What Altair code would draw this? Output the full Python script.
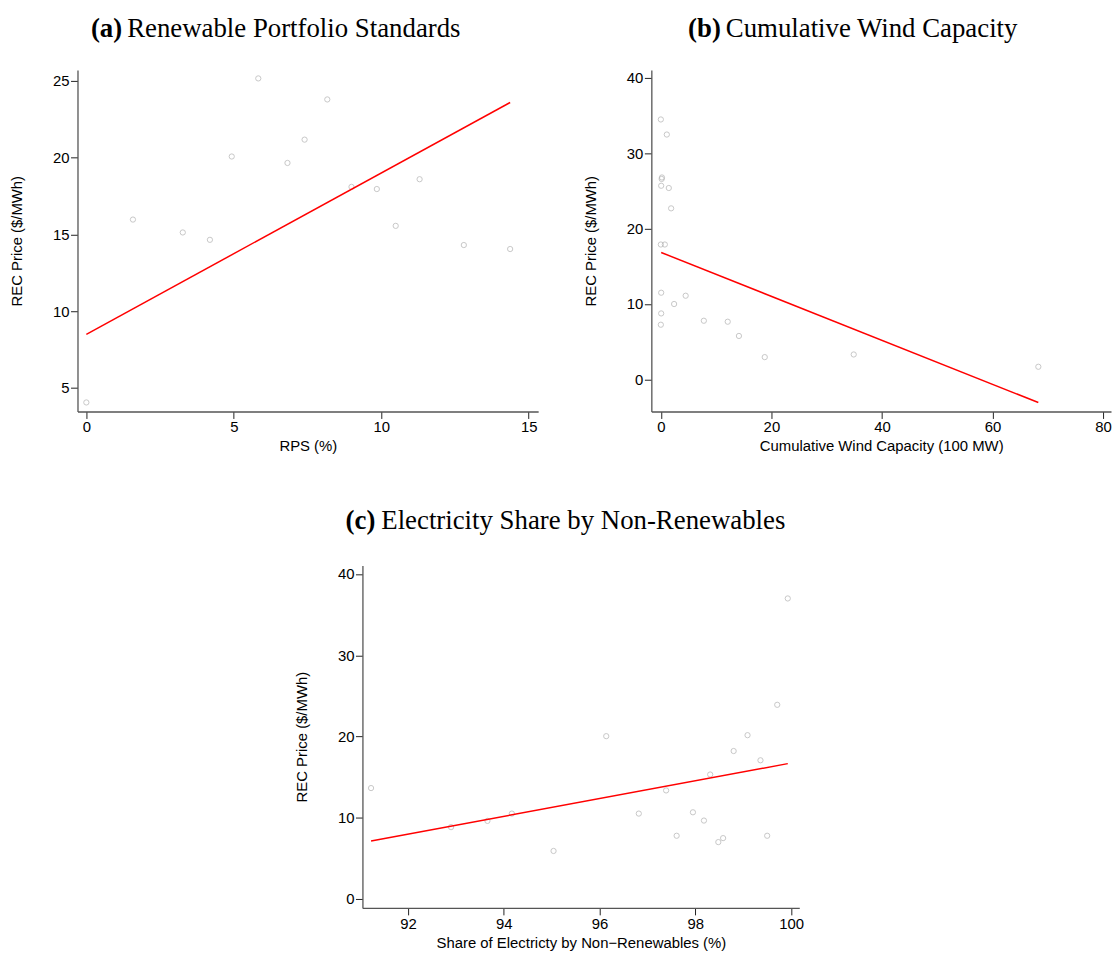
import altair as alt
import pandas as pd

# ---- data ----
rps_pct = [0, 1.58, 3.27, 4.19, 4.93, 5.83, 6.82, 7.40, 8.17, 8.99, 9.85, 10.49, 11.30, 12.80, 14.37]
rec_a = [4.05, 15.97, 15.13, 14.65, 20.08, 25.17, 19.66, 21.18, 23.80, 18.10, 17.96, 15.56, 18.60, 14.31, 14.05]
fit_a_x = [0, 14.37]
fit_a_y = [8.49, 23.60]

wind_cap = [0, 1.08, 0.20, 0.15, 0.06, 1.44, 1.86, 0, 0.72, 0.06, 4.49, 2.40, 0.06, 0, 7.78, 12.10, 14.13, 18.80, 34.90, 68.30]
rec_b = [34.5, 32.5, 26.8, 26.6, 25.7, 25.4, 22.7, 17.9, 17.9, 11.5, 11.1, 10.0, 8.75, 7.25, 7.78, 7.65, 5.76, 2.95, 3.30, 1.67]
fit_b_x = [0.06, 68.3]
fit_b_y = [16.84, -3.08]

nonren_share = [91.23, 92.90, 93.66, 94.17, 95.04, 96.14, 96.82, 97.39, 97.61, 97.95, 98.18, 98.31, 98.48, 98.58, 98.80, 99.09, 99.36, 99.50, 99.71, 99.93]
rec_c = [13.65, 8.84, 9.61, 10.51, 5.91, 20.04, 10.51, 13.36, 7.78, 10.67, 9.65, 15.32, 7.00, 7.49, 18.21, 20.16, 17.07, 7.78, 23.90, 36.99]
fit_c_x = [91.23, 99.93]
fit_c_y = [7.13, 16.66]

SANS = "Liberation Sans"
SERIF = "Liberation Serif"
YTITLE = "REC Price ($/MWh)"
TFS = 27


def panel(xs, ys, fx, fy, xdom, ydom, xticks, yticks, xtitle, tag, title,
          w, h, tag_x, rest_x, title_y):
    pts = pd.DataFrame({"x": xs, "y": ys})
    fit = pd.DataFrame({"x": fx, "y": fy})
    xsc = alt.Scale(domain=xdom, nice=False, zero=False)
    ysc = alt.Scale(domain=ydom, nice=False, zero=False)
    xax = alt.Axis(values=xticks, title=xtitle, format="d")
    yax = alt.Axis(values=yticks, title=YTITLE, format="d")
    p = alt.Chart(pts).mark_point(
        shape="circle", size=28, filled=False, color="#b0b0b0", strokeWidth=1
    ).encode(x=alt.X("x:Q", scale=xsc, axis=xax), y=alt.Y("y:Q", scale=ysc, axis=yax))
    l = alt.Chart(fit).mark_line(color="#ff0000", strokeWidth=1.5).encode(
        x=alt.X("x:Q", scale=xsc), y=alt.Y("y:Q", scale=ysc))
    t1 = alt.Chart(pd.DataFrame({"t": [tag]})).mark_text(
        font=SERIF, fontSize=TFS, fontWeight="bold", align="right", baseline="alphabetic", color="black"
    ).encode(text="t:N", x=alt.value(tag_x), y=alt.value(title_y))
    t2 = alt.Chart(pd.DataFrame({"t": [title]})).mark_text(
        font=SERIF, fontSize=TFS, align="left", baseline="alphabetic", color="black"
    ).encode(text="t:N", x=alt.value(rest_x), y=alt.value(title_y))
    return alt.layer(p, l, t1, t2).properties(width=w, height=h)


a = panel(rps_pct, rec_a, fit_a_x, fit_a_y, [-0.3, 15.32], [3.46, 25.72],
          [0, 5, 10, 15], [5, 10, 15, 20, 25], "RPS (%)",
          "(a)", "Renewable Portfolio Standards", 464, 344, 45, 50, -33.5)
b = panel(wind_cap, rec_b, fit_b_x, fit_b_y, [-1.72, 81.45], [-4.27, 41.07],
          [0, 20, 40, 60, 80], [0, 10, 20, 30, 40], "Cumulative Wind Capacity (100 MW)",
          "(b)", "Cumulative Wind Capacity", 463, 344, 70, 75, -33.5)
c = panel(nonren_share, rec_c, fit_c_x, fit_c_y, [91.05, 100.17], [-1.1, 41.06],
          [92, 94, 96, 98, 100], [0, 10, 20, 30, 40], "Share of Electricty by Non\u2212Renewables (%)",
          "(c)", "Electricity Share by Non-Renewables", 440, 345, 13, 19, -37)

# invisible spacer that shifts panel (c) to its place in the lower row
SPACER_W = 218
spacer = alt.Chart(pd.DataFrame({"s": [0]})).mark_rule(opacity=0).encode(
    x=alt.value(0), x2=alt.value(SPACER_W), y=alt.value(0)
).properties(width=SPACER_W, height=1)

top = alt.hconcat(a, b, spacing=45)
bottom = alt.hconcat(spacer, c, spacing=0)
chart = alt.vconcat(top, bottom, spacing=53).properties(
    background="white",
    padding={"left": 1, "top": 3, "right": 0, "bottom": 0},
).configure_view(stroke=None).configure_axis(
    grid=False,
    domainColor="#555555",
    domainWidth=1.3,
    tickColor="#222222",
    tickSize=7,
    tickWidth=1,
    labelPadding=1.5,
    labelFont=SANS,
    labelFontSize=15,
    labelColor="black",
    titleFont=SANS,
    titleFontSize=15,
    titleFontWeight="normal",
    titleColor="black",
).configure_axisY(titlePadding=28).configure_axisX(titlePadding=4)

chart.save("out.html", embed_options={"renderer": "svg", "actions": False})
